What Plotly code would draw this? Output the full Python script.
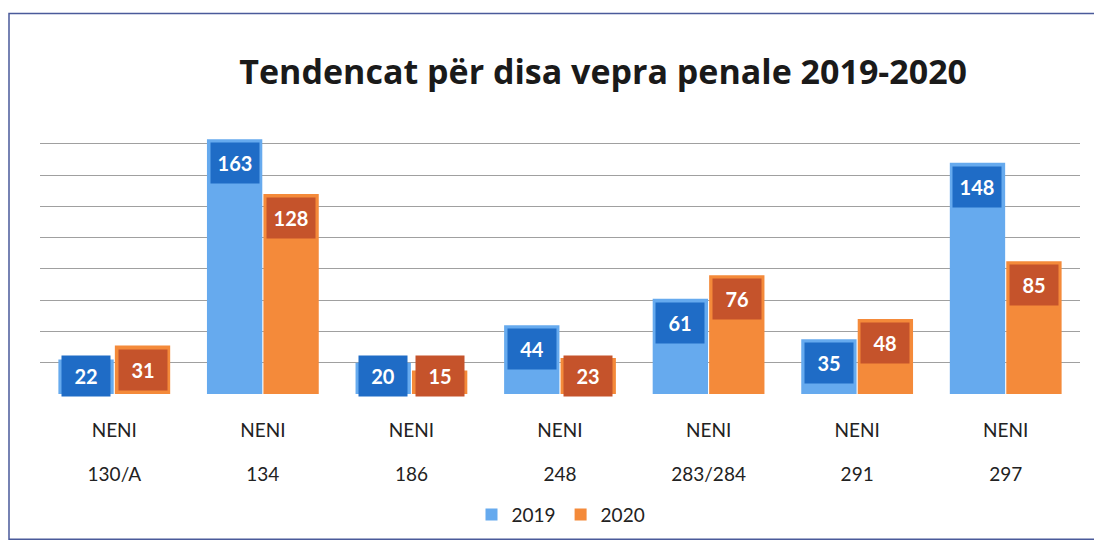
import plotly.graph_objects as go

categories = ["130/A", "134", "186", "248", "283/284", "291", "297"]
prefix = "NENI"
values_2019 = [22, 163, 20, 44, 61, 35, 148]
values_2020 = [31, 128, 15, 23, 76, 48, 85]
series_names = ["2019", "2020"]
title_text = "Tendencat për disa vepra penale 2019-2020"

BLUE = "#66AAEE"
BLUE_DARK = "#1F6CC6"
ORANGE = "#F48A3A"
ORANGE_DARK = "#C5532B"
FONT = "Lato"
TITLE_FONT = "Open Sans"

# page has an 8px body margin; work in screen coords and convert
O = 8
W, H = 1102 - 2 * O, 553 - 2 * O
PL, PR, PT, PB = 40, 1080, 133, 397   # plot area in screen px
L, R, T, B = PL - O, W - (PR - O), PT - O, H - (PB - O)
YMAX = 167
BARGAP = 0.24

idx = list(range(len(categories)))
span = "<span style='font-size:19px'>{}</span>"
ticktext = [span.format(prefix) + "<br><br>" + span.format(c) for c in categories]

fig = go.Figure()
fig.add_trace(go.Bar(x=idx, y=values_2019, name=series_names[0],
                     marker=dict(color=BLUE, line=dict(width=0)), hoverinfo="skip"))
fig.add_trace(go.Bar(x=idx, y=values_2020, name=series_names[1],
                     marker=dict(color=ORANGE, line=dict(width=0)), hoverinfo="skip"))

annotations = []
off = (1 - BARGAP) / 4
min_label = 27
for vals, sign, col in [(values_2019, -1, BLUE_DARK), (values_2020, 1, ORANGE_DARK)]:
    for i, v in zip(idx, vals):
        annotations.append(dict(
            x=i + sign * off, y=max(v, min_label), xref="x", yref="y",
            text=f"<b>{v}</b>", showarrow=False, yanchor="top", yshift=-3,
            bgcolor=col, width=48, height=40, borderpad=0,
            font=dict(family=FONT, size=20, color="white")))

plot_w = W - L - R
plot_h = H - T - B
def px_x(p):
    return (p - O - L) / plot_w
def px_y(p):
    return (H - B - (p - O)) / plot_h

fig.update_layout(
    width=W, height=H,
    margin=dict(l=L, r=R, t=T, b=B),
    paper_bgcolor="white", plot_bgcolor="white",
    font=dict(family=FONT, color="#222222"),
    barmode="group", bargap=BARGAP, bargroupgap=0.02,
    title=dict(text=f"<b>{title_text}</b>", x=px_x(610), xanchor="center",
               y=1 - (72 - O) / H, yanchor="middle",
               font=dict(family=TITLE_FONT, size=34, color="#1a1a1a")),
    xaxis=dict(tickmode="array", tickvals=idx, ticktext=ticktext,
               tickfont=dict(family=FONT, size=17, color="#222222"),
               showgrid=False, zeroline=False, showline=False,
               ticks="", ticklabelstandoff=25, range=[-0.5, len(idx) - 0.5]),
    yaxis=dict(range=[0, YMAX], dtick=20, showgrid=True, gridcolor="#A0A0A0",
               gridwidth=1, showticklabels=False, zeroline=False, showline=False),
    legend=dict(orientation="h", x=px_x(561), xanchor="center", y=px_y(519), yanchor="middle",
                font=dict(family=FONT, size=19, color="#222222"), bgcolor="rgba(0,0,0,0)",
                itemwidth=30, itemsizing="constant", traceorder="normal"),
    annotations=annotations,
    shapes=[dict(type="rect", xref="paper", yref="paper",
                 x0=px_x(9), x1=px_x(1120), y0=px_y(544), y1=px_y(12),
                 line=dict(color="#4A5A9A", width=1.5), fillcolor="rgba(0,0,0,0)",
                 layer="below")],
    showlegend=True,
)

fig.write_html("out.html")
